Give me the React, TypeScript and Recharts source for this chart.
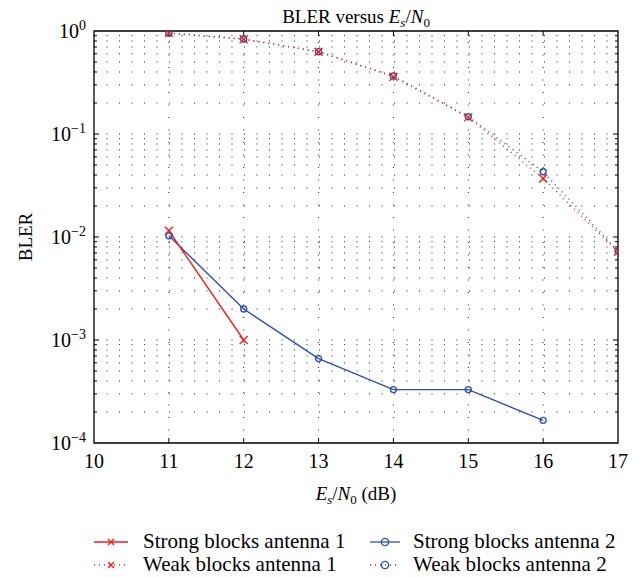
import React from "react";
import { LineChart, Line, XAxis, YAxis, ReferenceLine, ReferenceArea } from "recharts";

// Es/N0 operating points (dB)
const snrDb = [11, 12, 13, 14, 15, 16, 17];

// Block error rates per series
const strongAntenna1 = [0.0115, 0.001];
const weakAntenna1 = [0.96, 0.83, 0.63, 0.36, 0.145, 0.037, 0.0072];
const strongAntenna2 = [0.0103, 0.002, 0.00066, 0.00033, 0.00033, 0.000166];
const weakAntenna2 = [0.95, 0.836, 0.63, 0.366, 0.147, 0.043, 0.0073];

// Axis ticks
const xTicks = [10, 11, 12, 13, 14, 15, 16, 17];
const yTicks = [1e-4, 1e-3, 1e-2, 1e-1, 1];
const yTickExponents = ["\u22124", "\u22123", "\u22122", "\u22121", "0"];

const FONT = '"Liberation Serif", "Times New Roman", serif';
const RED = "#e8221c";
const BLUE = "#2f4fa6";
const W = 639;
const H = 577;

const X_MIN = 10;
const X_MAX = 17;
const Y_MIN = 1e-4;
const Y_MAX = 1;

// log grid values (1..9 within each decade, interior only)
const minorY: number[] = [];
for (let e = -4; e < 0; e++) {
  for (let m = 1; m <= 9; m++) {
    const v = m * Math.pow(10, e);
    if (v > Y_MIN) minorY.push(v);
  }
}

const toSeries = (vals: number[]) => vals.map((v, i) => ({ x: snrDb[i], y: v }));

const CrossDot = (props: any) => {
  const { cx, cy, size = 4, color = RED } = props;
  if (cx == null || cy == null) return null;
  return (
    <g>
      <line x1={cx - size} y1={cy - size} x2={cx + size} y2={cy + size} stroke={color} strokeWidth={1.4} />
      <line x1={cx - size} y1={cy + size} x2={cx + size} y2={cy - size} stroke={color} strokeWidth={1.4} />
    </g>
  );
};

const CircleDot = (props: any) => {
  const { cx, cy, r = 5.3, color = BLUE } = props;
  if (cx == null || cy == null) return null;
  return <circle cx={cx} cy={cy} r={r} fill="none" stroke={color} strokeWidth={1.4} />;
};

const YTick = (props: any) => {
  const { y, payload } = props;
  const idx = yTicks.findIndex((t) => Math.abs(t - payload.value) / t < 1e-6);
  return (
    <text x={86} y={y + 7} textAnchor="end" fontFamily={FONT} fontSize={20} fill="#000">
      10
      <tspan dy={-8} fontSize={14}>
        {yTickExponents[idx]}
      </tspan>
    </text>
  );
};

const XTick = (props: any) => {
  const { x, payload } = props;
  return (
    <text x={x} y={468} textAnchor="middle" fontFamily={FONT} fontSize={20} fill="#000">
      {payload.value}
    </text>
  );
};

const gridStyle = { stroke: "#222", strokeWidth: 1, strokeDasharray: "1 11.5" };
const MAJOR_DX = 0.067;
const MINOR_DX = 0.04;
const MAJOR_FY = 1.118;

const LegendRow = ({ x, len, textX, y, color, dashed, marker, label }: any) => (
  <g>
    <line x1={x} y1={y} x2={x + len} y2={y} stroke={color} strokeWidth={1.3} strokeDasharray={dashed ? "1 4" : undefined} />
    {marker === "x" ? (
      <CrossDot cx={x + len / 2} cy={y} size={3} color={color} />
    ) : (
      <CircleDot cx={x + len / 2} cy={y} r={3.6} color={color} />
    )}
    <text x={textX} y={y + 6} fontFamily={FONT} fontSize={21} fill="#000">
      {label}
    </text>
  </g>
);

export default function App() {
  return (
    <div style={{ position: "absolute", left: 0, top: 0, width: W, height: H, background: "#fff" }}>
      <LineChart width={W} height={H} margin={{ top: 31, right: 21, left: 34, bottom: 104 }}>
        <XAxis
          dataKey="x"
          type="number"
          domain={[X_MIN, X_MAX]}
          ticks={xTicks}
          allowDataOverflow
          height={30}
          axisLine={false}
          tickLine={false}
          tick={<XTick />}
          interval={0}
        />
        <YAxis
          type="number"
          scale="log"
          domain={[Y_MIN, Y_MAX]}
          ticks={yTicks}
          allowDataOverflow
          width={60}
          axisLine={false}
          tickLine={false}
          tick={<YTick />}
          interval={0}
        />

        {minorY.map((v) => (
          <ReferenceLine key={`gy${v}`} y={v} {...gridStyle} />
        ))}
        {xTicks.slice(1, -1).map((v) => (
          <ReferenceLine key={`gx${v}`} x={v} {...gridStyle} />
        ))}

        {minorY.map((v) => {
          const major = yTicks.some((t) => Math.abs(t - v) / t < 1e-6);
          const dx = major ? MAJOR_DX : MINOR_DX;
          return (
            <React.Fragment key={`ty${v}`}>
              <ReferenceLine segment={[{ x: X_MIN, y: v }, { x: X_MIN + dx, y: v }]} stroke="#000" strokeWidth={1} />
              <ReferenceLine segment={[{ x: X_MAX - dx, y: v }, { x: X_MAX, y: v }]} stroke="#000" strokeWidth={1} />
            </React.Fragment>
          );
        })}
        {xTicks.slice(1, -1).map((v) => (
          <React.Fragment key={`tx${v}`}>
            <ReferenceLine segment={[{ x: v, y: Y_MIN }, { x: v, y: Y_MIN * MAJOR_FY }]} stroke="#000" strokeWidth={1} />
            <ReferenceLine segment={[{ x: v, y: Y_MAX / MAJOR_FY }, { x: v, y: Y_MAX }]} stroke="#000" strokeWidth={1} />
          </React.Fragment>
        ))}

        <Line
          data={toSeries(weakAntenna2)}
          dataKey="y"
          stroke={BLUE}
          strokeWidth={1.4}
          strokeDasharray="1 4"
          dot={<CircleDot />}
          isAnimationActive={false}
        />
        <Line
          data={toSeries(strongAntenna2)}
          dataKey="y"
          stroke={BLUE}
          strokeWidth={1.4}
          dot={<CircleDot />}
          isAnimationActive={false}
        />
        <Line
          data={toSeries(weakAntenna1)}
          dataKey="y"
          stroke={RED}
          strokeWidth={1.4}
          strokeDasharray="1 4"
          dot={<CrossDot />}
          isAnimationActive={false}
        />
        <Line
          data={toSeries(strongAntenna1)}
          dataKey="y"
          stroke={RED}
          strokeWidth={1.4}
          dot={<CrossDot />}
          isAnimationActive={false}
        />

        <ReferenceArea x1={X_MIN} x2={X_MAX} y1={Y_MIN} y2={Y_MAX} fill="none" fillOpacity={0} stroke="#000" strokeWidth={1.3} ifOverflow="visible" />
      </LineChart>

      <svg width={W} height={H} style={{ position: "absolute", left: 0, top: 0, pointerEvents: "none" }}>
        <text x={356} y={23} textAnchor="middle" fontFamily={FONT} fontSize={19} fill="#000">
          BLER versus <tspan fontStyle="italic">E</tspan>
          <tspan fontStyle="italic" fontSize={13} dy={4}>s</tspan>
          <tspan dy={-4}>/</tspan>
          <tspan fontStyle="italic">N</tspan>
          <tspan fontSize={13} dy={4}>0</tspan>
        </text>
        <text x={356} y={500} textAnchor="middle" fontFamily={FONT} fontSize={19} fill="#000">
          <tspan fontStyle="italic">E</tspan>
          <tspan fontStyle="italic" fontSize={13} dy={4}>s</tspan>
          <tspan dy={-4}>/</tspan>
          <tspan fontStyle="italic">N</tspan>
          <tspan fontSize={13} dy={4}>0</tspan>
          <tspan dy={-4}> (dB)</tspan>
        </text>
        <text transform="translate(32,237) rotate(-90)" textAnchor="middle" fontFamily={FONT} fontSize={19} fill="#000">
          BLER
        </text>

        <LegendRow x={94} len={34} textX={143} y={542} color={RED} marker="x" label="Strong blocks antenna 1" />
        <LegendRow x={94} len={34} textX={143} y={565} color={RED} dashed marker="x" label="Weak blocks antenna 1" />
        <LegendRow x={370} len={30} textX={413} y={542} color={BLUE} marker="o" label="Strong blocks antenna 2" />
        <LegendRow x={370} len={30} textX={413} y={565} color={BLUE} dashed marker="o" label="Weak blocks antenna 2" />
      </svg>
    </div>
  );
}
